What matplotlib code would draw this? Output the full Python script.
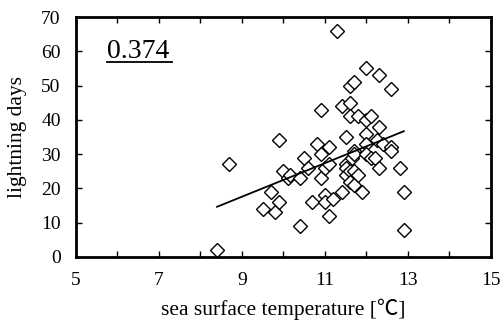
import matplotlib
matplotlib.use("Agg")
import matplotlib.pyplot as plt
import numpy as np

fonts = ['Liberation Serif', 'Noto Sans CJK JP', 'DejaVu Sans']
plt.rcParams['font.family'] = fonts

# sea surface temperature and lightning days
sst = [8.4, 8.7, 9.5, 9.7, 9.8, 9.9, 9.9, 10.0, 10.1, 10.15,
       10.4, 10.4, 10.5, 10.6, 10.7, 10.8, 10.9, 10.9, 10.9, 11.0,
       11.0, 11.0, 11.1, 11.1, 11.1, 11.2, 11.3, 11.4, 11.4, 11.5,
       11.5, 11.5, 11.5, 11.6, 11.6, 11.6, 11.6, 11.6, 11.65, 11.7,
       11.7, 11.7, 11.7, 11.7, 11.8, 11.8, 11.9, 12.0, 12.0, 12.0,
       12.0, 12.0, 12.1, 12.1, 12.2, 12.25, 12.3, 12.3, 12.3, 12.4,
       12.6, 12.6, 12.6, 12.8, 12.9, 12.9]
days = [2, 27, 14, 19, 13, 16, 34, 25, 23, 24,
        23, 9, 29, 26, 16, 33, 30, 23, 43, 18,
        16, 26, 32, 27, 12, 17, 66, 44, 19, 35,
        27, 26, 24, 25, 22, 45, 41, 50, 29, 31,
        30, 25, 21, 51, 41, 24, 19, 55, 40, 36,
        33, 30, 41, 29, 29, 34, 38, 53, 26, 33,
        32, 31, 49, 26, 19, 8]
corr_label = '0.374'

x = np.array(sst)
y = np.array(days)
slope, intercept = np.polyfit(x, y, 1)
fit_x = np.array([x.min(), x.max()])
fit_y = slope * fit_x + intercept

fig = plt.figure(figsize=(5.03, 3.22), dpi=100)
ax = fig.add_axes([0.151, 0.202, 0.825, 0.745])

ax.plot(x, y, linestyle='none', marker='D', markersize=7.5,
        markerfacecolor='white', markeredgecolor='black', markeredgewidth=1.0)
ax.plot(fit_x, fit_y, color='black', linewidth=1.3)

ax.set_xlim(5, 15)
ax.set_ylim(0, 70)
ax.set_xticks(np.arange(5, 16, 2))
ax.set_xticks(np.arange(6, 15, 2), minor=True)
ax.set_yticks(np.arange(0, 71, 10))
ax.tick_params(which='both', direction='in', top=True, right=True,
               length=4, width=1, labelsize=14, pad=11)
for lbl in ax.get_xticklabels() + ax.get_yticklabels():
    lbl.set_family(fonts)
for s in ax.spines.values():
    s.set_linewidth(2)

ax.set_xlabel('sea surface temperature [℃]', fontsize=15.5, va='center', family=fonts)
ax.set_ylabel('lightning days', fontsize=15.5, va='center', family=fonts)
ax.xaxis.set_label_coords(0.5, -0.22)
ax.yaxis.set_label_coords(-0.14, 0.5)

# correlation coefficient, underlined
ax.text(0.076, 0.855, corr_label, transform=ax.transAxes, fontsize=20,
        ha='left', va='center', family=fonts)
ax.plot([0.075, 0.231], [0.812, 0.812], transform=ax.transAxes,
        color='black', linewidth=1.3)

fig.savefig('out.png', dpi=100)
